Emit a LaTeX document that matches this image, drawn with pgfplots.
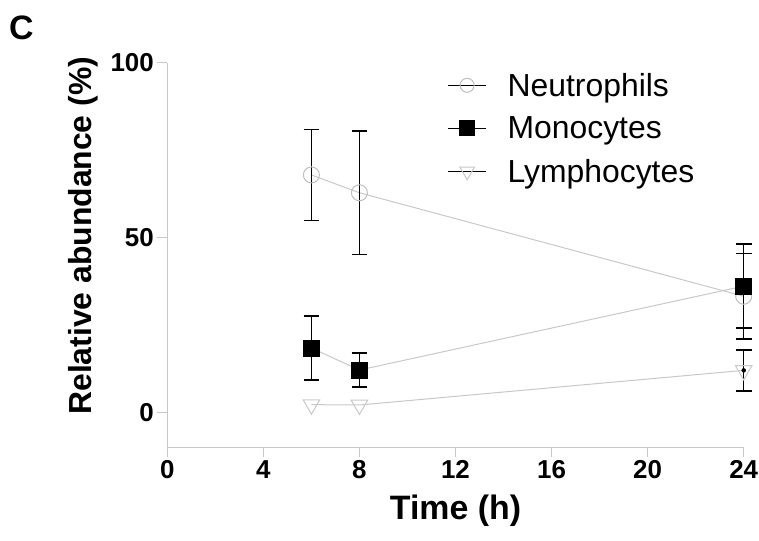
\documentclass[border=0pt]{standalone}
\usepackage{pgfplots}
\pgfplotsset{compat=1.18}
\usepackage{fontspec}
\setmainfont{Liberation Sans}
\definecolor{lgray}{RGB}{200,200,200}
\definecolor{mgray}{RGB}{190,190,190}
\newcommand{\lf}{\fontsize{32}{32}\selectfont}
\begin{document}
\begin{tikzpicture}
\path[use as bounding box] (0bp,0bp) rectangle (759bp,-541bp);
\node[anchor=north west, inner sep=0pt, font=\bfseries\fontsize{34}{34}\selectfont] at (9bp,-16bp) {C};
\begin{axis}[
  at={(167.3bp,-447.3bp)}, anchor=south west,
  scale only axis, width=576.4bp, height=384.6bp,
  xmin=0, xmax=24, ymin=-10, ymax=100,
  clip=false,
  axis lines=left,
  axis line style={-, draw=lgray, line width=1bp},
  xtick={0,4,8,12,16,20,24}, ytick={0,50,100},
  tick align=outside, major tick length=10bp,
  tick style={draw=lgray, line width=1bp},
  /pgf/number format/assume math mode=true,
  tick label style={font=\bfseries\fontsize{26}{26}\selectfont},
  xlabel={Time (h)},
  ylabel={Relative abundance (\%)},
  label style={font=\bfseries\fontsize{32}{32}\selectfont},
  ylabel style={at={(axis description cs:-0.146,0.55)}, anchor=center},
  xlabel style={at={(axis description cs:0.5,-0.165)}, anchor=center, font=\bfseries\fontsize{34}{34}\selectfont},
  legend style={draw=none, fill=none, at={(0.486,0.979)}, anchor=north west,
    nodes={inner sep=2bp}, row sep=15bp, column sep=19bp, inner sep=0pt},
  legend cell align=left,
  legend image code/.code={\draw[mark repeat=2,mark phase=2,#1] plot coordinates {(0bp,0bp)(19bp,0bp)(38bp,0bp)};},
]
% Neutrophils
\addplot[forget plot, color=lgray, line width=1bp, mark=o, mark size=8bp,
  mark options={draw=mgray, line width=1bp},
  error bars/.cd, y dir=both, y explicit,
  error bar style={draw=black, line width=1.5bp},
  error mark options={rotate=90, mark size=7.8bp, draw=black, line width=1.5bp}]
  table[x=x, y=y, y error=e] {
x y e
6 67.9 13
8 62.8 17.6
24 33.2 12.2
};
% Monocytes
\addplot[forget plot, color=lgray, line width=1bp, mark=square*, mark size=8bp,
  mark options={draw=black, fill=black},
  error bars/.cd, y dir=both, y explicit,
  error bar style={draw=black, line width=1.5bp},
  error mark options={rotate=90, mark size=7.8bp, draw=black, line width=1.5bp}]
  table[x=x, y=y, y error=e] {
x y e
6 18.4 9.1
8 12.1 4.9
24 36.1 12
};
% Lymphocytes
\addplot[forget plot, color=lgray, line width=1bp, mark=triangle, mark size=9.5bp,
  mark options={draw=lgray, line width=1bp, rotate=180}]
  table[x=x, y=y] {
x y
6 2.2
8 2.1
24 12
};
\addplot[forget plot, only marks, mark=none,
  error bars/.cd, y dir=both, y explicit,
  error bar style={draw=black, line width=1.5bp},
  error mark options={rotate=90, mark size=7.8bp, draw=black, line width=1.5bp}]
  table[x=x, y=y, y error=e] {
x y e
24 12 5.9
};
\addlegendimage{black, line width=1bp, mark=o, mark size=7bp, mark options={draw=mgray}}
\addlegendentry{\lf Neutrophils}
\addlegendimage{black, line width=1bp, mark=square*, mark size=7.5bp, mark options={draw=black, fill=black}}
\addlegendentry{\lf Monocytes}
\addlegendimage{black, line width=1bp, mark=triangle, mark size=8.5bp, mark options={draw=lgray, rotate=180}}
\addlegendentry{\lf Lymphocytes}
\end{axis}
\end{tikzpicture}
\end{document}
